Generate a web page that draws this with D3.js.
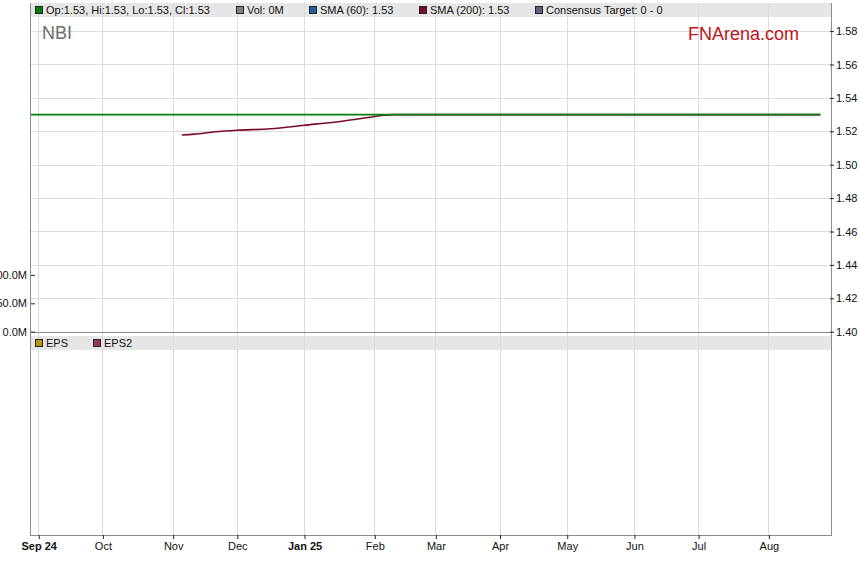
<!DOCTYPE html>
<html><head><meta charset="utf-8">
<script src="https://cdn.jsdelivr.net/npm/d3@7/dist/d3.min.js"></script>
<style>body{margin:0;background:#fff}svg{display:block;font-family:"Liberation Sans",Arial,sans-serif}</style>
</head><body><svg id="c" width="859" height="566"></svg>
<script>
// ---- data ----
const ticker = "NBI";
const brand = "FNArena.com";
const closeDates = ["2024-08-28", "2025-08-26"];
const closeValues = [1.53, 1.53];
const sma200Dates = ["2024-11-06","2024-11-12","2024-11-21","2024-12-02","2024-12-17","2025-01-01","2025-01-20","2025-01-30","2025-02-06","2025-02-11","2025-08-26"];
const sma200Values = [1.5178,1.5183,1.5197,1.5206,1.5215,1.5236,1.5262,1.5283,1.5296,1.5300,1.5300];
const volumeValues = [0, 0];
const monthTickDates = ["2024-09-02","2024-10-01","2024-11-01","2024-12-02","2025-01-01","2025-02-03","2025-03-03","2025-04-01","2025-05-01","2025-06-02","2025-07-01","2025-08-01"];
const monthTickLabels = ["Sep 24","Oct","Nov","Dec","Jan 25","Feb","Mar","Apr","May","Jun","Jul","Aug"];
const priceTicks = [1.40,1.42,1.44,1.46,1.48,1.50,1.52,1.54,1.56,1.58];
const volumeTicks = [0, 50, 100];
const topLegend = [
  {label:"Op:1.53, Hi:1.53, Lo:1.53, Cl:1.53", color:"#008000", x:35},
  {label:"Vol: 0M", color:"#808080", x:236},
  {label:"SMA (60): 1.53", color:"#1f5f9f", x:309},
  {label:"SMA (200): 1.53", color:"#7a0a2a", x:419},
  {label:"Consensus Target: 0 - 0", color:"#606080", x:535}
];
const bottomLegend = [
  {label:"EPS", color:"#b8960c", x:35},
  {label:"EPS2", color:"#993366", x:93}
];

// ---- layout ----
const L = 30, R = 831, T = 3, legH = 14, P1B = 331.7, P2T = 336, P2B = 535;
const svg = d3.select("#c");
const parse = d3.utcParse("%Y-%m-%d");
const base = parse("2024-09-02");
const isWd = d => d.getUTCDay() % 6 !== 0;
function tIndex(s){
  const d = parse(s);
  return d >= base ? d3.utcDay.range(base, d).filter(isWd).length
                   : -d3.utcDay.range(d, base).filter(isWd).length;
}
const x = d3.scaleLinear().domain([-2.7, 259.5]).range([L, R]);
const y = d3.scaleLinear().domain([1.40, 1.40 + (P1B - (T+legH)) / 1670]).range([P1B, T+legH]);
const yv = d3.scaleLinear().domain([0, (P1B - (T+legH)) / 0.568]).range([P1B, T+legH]);

const grid = "#dcdcdc", frame = "#8c8c8c";

// legend bars
svg.append("rect").attr("x", L).attr("y", T).attr("width", R-L).attr("height", legH).attr("fill", "#e6e6e6");
svg.append("rect").attr("x", L).attr("y", P2T).attr("width", R-L).attr("height", legH).attr("fill", "#e6e6e6");

// vertical grid
const tickX = monthTickDates.map(tIndex);
svg.append("g").selectAll("line").data(tickX).join("line")
  .attr("x1", d => Math.round(x(d))+0.5).attr("x2", d => Math.round(x(d))+0.5)
  .attr("y1", T).attr("y2", P2B).attr("stroke", grid).attr("stroke-width", 1);
// horizontal grid (price)
svg.append("g").selectAll("line").data(priceTicks.slice(1)).join("line")
  .attr("x1", L).attr("x2", R).attr("y1", d => Math.round(y(d))+0.5).attr("y2", d => Math.round(y(d))+0.5)
  .attr("stroke", grid);

// legends text
function legend(items, yy){
  const g = svg.append("g");
  items.forEach(it => {
    g.append("rect").attr("x", it.x+0.5).attr("y", yy+3.5).attr("width", 7).attr("height", 7)
      .attr("fill", it.color).attr("stroke", "#222").attr("stroke-width", 1);
    g.append("text").attr("x", it.x+11).attr("y", yy+11).attr("font-size", 11).attr("fill", "#111").text(it.label);
  });
}
legend(topLegend, T);
legend(bottomLegend, P2T);

// ticker + brand
svg.append("text").attr("x", 42).attr("y", 39).attr("font-size", 18).attr("fill", "#6e6e6e").text(ticker);
svg.append("text").attr("x", 799).attr("y", 40).attr("text-anchor", "end").attr("font-size", 18).attr("fill", "#c0141c").text(brand);

// clip
svg.append("clipPath").attr("id", "clip").append("rect").attr("x", L).attr("y", T+legH).attr("width", R-L).attr("height", P1B-T-legH);

const line = d3.line().x(d => x(d[0])).y(d => y(d[1])).curve(d3.curveMonotoneX);
const smaPts = sma200Dates.map((d,i) => [tIndex(d), sma200Values[i]]);
const closePts = closeDates.map((d,i) => [tIndex(d), closeValues[i]]);
const plot = svg.append("g").attr("clip-path", "url(#clip)");
plot.append("path").datum(smaPts).attr("d", line).attr("fill", "none").attr("stroke", "#7a0a2a").attr("stroke-width", 1.6);
plot.append("path").datum(closePts).attr("d", line).attr("fill", "none").attr("stroke", "#008000").attr("stroke-width", 1.6);

// frame
svg.append("line").attr("x1", L+0.5).attr("x2", L+0.5).attr("y1", T).attr("y2", P2B).attr("stroke", frame);
svg.append("line").attr("x1", R+0.5).attr("x2", R+0.5).attr("y1", T).attr("y2", P2B).attr("stroke", frame);
svg.append("line").attr("x1", L).attr("x2", R+1).attr("y1", Math.round(P1B)+0.5).attr("y2", Math.round(P1B)+0.5).attr("stroke", frame);
svg.append("line").attr("x1", L).attr("x2", R+1).attr("y1", P2B+0.5).attr("y2", P2B+0.5).attr("stroke", frame);

// right price axis
const ya = d3.axisRight(y).tickValues(priceTicks).tickFormat(d3.format(".2f")).tickSize(4).tickPadding(2);
const gy = svg.append("g").attr("transform", `translate(${R-1},0)`).call(ya);
gy.select(".domain").remove();
gy.selectAll("line").attr("stroke", "#222");
gy.selectAll("text").attr("font-size", 11).attr("font-family", "Liberation Sans, Arial, sans-serif").attr("fill", "#111");

// left volume axis
const va = d3.axisLeft(yv).tickValues(volumeTicks).tickFormat(d => d.toFixed(1) + "M").tickSize(4).tickPadding(2);
const gv = svg.append("g").attr("transform", `translate(${L+5},0)`).call(va);
gv.select(".domain").remove();
gv.selectAll("line").attr("stroke", "#222");
gv.selectAll("text").attr("font-size", 11).attr("font-family", "Liberation Sans, Arial, sans-serif").attr("fill", "#111").attr("dx", -2);

// bottom time axis
const xa = d3.axisBottom(x).tickValues(tickX).tickFormat((d,i) => monthTickLabels[i]).tickSize(4).tickPadding(3);
const gx = svg.append("g").attr("transform", `translate(0.5,${P2B})`).call(xa);
gx.select(".domain").remove();
gx.selectAll("line").attr("stroke", "#222");
gx.selectAll("text").attr("font-size", 11).attr("font-family", "Liberation Sans, Arial, sans-serif").attr("fill", "#111")
  .attr("font-weight", (d,i) => /\d/.test(monthTickLabels[i]) ? "bold" : "normal");
</script></body></html>
